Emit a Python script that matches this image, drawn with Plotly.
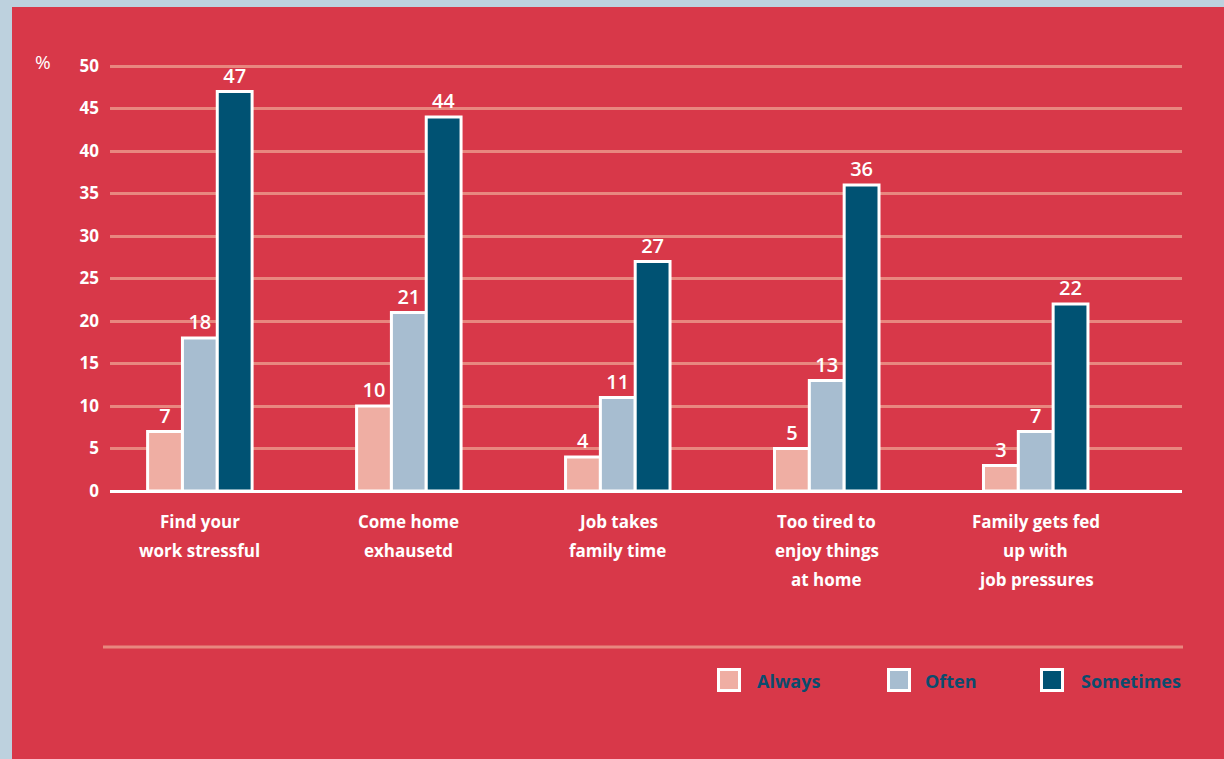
import plotly.graph_objects as go

# Survey results: share of respondents (%) by frequency
categories = [
    "Find your<br>work stressful",
    "Come home<br>exhausetd",
    "Job takes<br>family time",
    "Too tired to<br>enjoy things<br>at home",
    "Family gets fed<br>up with<br>job pressures",
]
always = [7, 10, 4, 5, 3]
often = [18, 21, 11, 13, 7]
sometimes = [47, 44, 27, 36, 22]
series_names = ["Always", "Often", "Sometimes"]
series_colors = ["#EFAEA3", "#A7BDD0", "#005273"]
y_ticks = [0, 5, 10, 15, 20, 25, 30, 35, 40, 45, 50]

W, H = 1224, 759
L, R, T, B = 110, 1182, 62, 491   # plot area in pixels
Y_TOP = 50 * (B - T) / (B - 66)    # keeps 50 at pixel 66 with a little headroom

RED = "#D83849"
BORDER = "#BDD1DE"
GRID = "#E8877F"
NAVY = "#0B4C6E"
FONT = "Open Sans"


def px_x(p):
    return (p - L) / (R - L)


def px_y(p):
    return (B - p) / (B - T)


x_idx = list(range(len(categories)))
fig = go.Figure()
for name, vals, col in zip(series_names, [always, often, sometimes], series_colors):
    fig.add_trace(go.Bar(
        x=x_idx, y=vals, name=name,
        marker=dict(color=col, line=dict(color="white", width=3)),
        text=[str(v) for v in vals], textposition="outside",
        textfont=dict(family=FONT, size=20, color="white", weight=600),
        cliponaxis=False, showlegend=False,
    ))

shapes = [
    # light frame on the left and top edges
    dict(type="rect", xref="paper", yref="paper", x0=px_x(-20), x1=px_x(12),
         y0=px_y(780), y1=px_y(-20), fillcolor=BORDER, line_width=0, layer="above"),
    dict(type="rect", xref="paper", yref="paper", x0=px_x(-20), x1=px_x(1240),
         y0=px_y(7), y1=px_y(-20), fillcolor=BORDER, line_width=0, layer="above"),
    # separator above the legend
    dict(type="line", xref="paper", yref="paper", x0=px_x(103), x1=px_x(1183),
         y0=px_y(647), y1=px_y(647), line=dict(color=GRID, width=3)),
]

annotations = [
    dict(text="%", xref="paper", yref="paper", x=px_x(43), y=px_y(62),
         showarrow=False, font=dict(family=FONT, size=19, color="white"),
         xanchor="center", yanchor="middle"),
]

# Category labels, one annotation per line for the wider line spacing
for i, cat in enumerate(categories):
    for k, line in enumerate(cat.split("<br>")):
        annotations.append(dict(
            text="<b>%s</b>" % line, x=i, xref="x", yref="paper", y=0,
            yshift=-30 - 29 * k, showarrow=False, xanchor="center", yanchor="middle",
            font=dict(family=FONT, size=17, color="white"),
        ))

# Legend: swatches with white outline and navy labels
legend_sq = [717, 887, 1040]
legend_tx = [755, 923, 1079]
for name, col, sx, tx in zip(series_names, series_colors, legend_sq, legend_tx):
    shapes.append(dict(type="rect", xref="paper", yref="paper",
                       x0=px_x(sx + 1.5), x1=px_x(sx + 22.5),
                       y0=px_y(690.5), y1=px_y(669.5),
                       fillcolor=col, line=dict(color="white", width=3)))
    annotations.append(dict(text="<b>%s</b>" % name, xref="paper", yref="paper",
                            x=px_x(tx), y=px_y(681), showarrow=False,
                            xanchor="left", yanchor="middle",
                            font=dict(family=FONT, size=18, color=NAVY)))

fig.update_layout(
    width=W, height=H,
    margin=dict(l=L, r=W - R, t=T, b=H - B, pad=0),
    paper_bgcolor=RED, plot_bgcolor="rgba(0,0,0,0)",
    barmode="group", bargap=0.5, bargroupgap=0,
    shapes=shapes, annotations=annotations,
    showlegend=False,
    xaxis=dict(range=[-0.43, 4.70], showticklabels=False, showgrid=False,
               zeroline=False, showline=False, ticks="", fixedrange=True),
    yaxis=dict(range=[0, Y_TOP], tickvals=y_ticks, ticktext=["<b>%d</b>" % v for v in y_ticks],
               showgrid=True, gridcolor=GRID, gridwidth=3,
               zeroline=True, zerolinecolor="white", zerolinewidth=3,
               showline=False, ticks="", ticklabelstandoff=10,
               tickfont=dict(family=FONT, size=17, color="white"), fixedrange=True),
)

fig.write_html("out.html")
